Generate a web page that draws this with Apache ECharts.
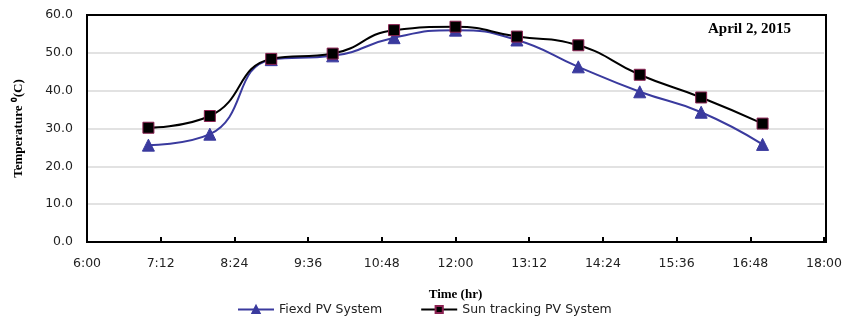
<!DOCTYPE html>
<html>
<head>
<meta charset="utf-8">
<script src="https://cdn.jsdelivr.net/npm/echarts@6/dist/echarts.min.js"></script>
<style>
html,body{margin:0;padding:0;background:#fff;}
#main{width:845px;height:323px;}
</style>
</head>
<body>
<div id="main"></div>
<script>
// time of day in hours
var hours = [7, 8, 9, 10, 11, 12, 13, 14, 15, 16, 17];
var fixedTemp = [25.6, 28.5, 48.2, 49.2, 54.0, 56.0, 53.4, 46.3, 39.7, 34.3, 25.8];
var trackTemp = [30.2, 33.3, 48.4, 49.8, 56.0, 56.9, 54.3, 52.0, 44.2, 38.2, 31.3];
var seriesNames = ['Fiexd PV System', 'Sun tracking PV System'];

function pairs(xs, ys){
	var out = [];
	for (var i = 0; i < xs.length; i++) {
		out.push([xs[i], ys[i]]);
	}
	return out;
}

function hhmm(v){
	var m = Math.round(v * 60);
	var h = Math.floor(m / 60);
	var mm = m % 60;
	return h + ':' + (mm < 10 ? '0' + mm : mm);
}

var myChart = echarts.init(document.getElementById('main'));

var option = {
	animation: false,
	backgroundColor: '#fff',
	grid: {
		left: 87, right: 19, top: 15, bottom: 81,
		show: false
	},
	legend: {
		bottom: 2,
		left: 232,
		itemWidth: 36,
		itemHeight: 9,
		itemGap: 38,
		textStyle: { fontFamily: 'DejaVu Sans, sans-serif', fontSize: 12.5, color: '#222' },
		data: seriesNames
	},
	xAxis: {
		type: 'value',
		min: 6, max: 18, interval: 1.2,
		name: 'Time (hr)',
		nameLocation: 'middle',
		nameGap: 46,
		nameTextStyle: { fontFamily: 'Liberation Serif, serif', fontWeight: 'bold', fontSize: 13, color: '#000' },
		axisLine: { lineStyle: { color: '#000', width: 2 } },
		axisTick: { inside: true, length: 5, lineStyle: { color: '#000', width: 2 } },
		axisLabel: {
			margin: 15, fontFamily: 'Verdana, DejaVu Sans, sans-serif', fontSize: 12.5, color: '#222',
			formatter: hhmm
		},
		splitLine: { show: false }
	},
	yAxis: {
		type: 'value',
		min: 0, max: 60, interval: 10,
		name: 'Temperature \u2070(C)',
		nameLocation: 'middle',
		nameGap: 62,
		nameTextStyle: { fontFamily: 'Liberation Serif, serif', fontWeight: 'bold', fontSize: 13, color: '#000' },
		axisLine: { show: true, lineStyle: { color: '#000', width: 2 } },
		axisTick: { show: false },
		axisLabel: {
			margin: 14, fontFamily: 'Verdana, DejaVu Sans, sans-serif', fontSize: 12.5, color: '#222',
			formatter: function(v){ return v.toFixed(1); }
		},
		splitLine: { lineStyle: { color: '#d9d9d9', width: 1.5 } }
	},
	series: [
		{
			name: seriesNames[0],
			type: 'line',
			smooth: 0.5,
			data: pairs(hours, fixedTemp),
			symbol: 'triangle',
			symbolSize: 12,
			lineStyle: { color: '#3a3a9e', width: 2 },
			itemStyle: { color: '#3a3a9e', borderColor: '#3a3a9e', borderWidth: 1 },
			z: 2
		},
		{
			name: seriesNames[1],
			type: 'line',
			smooth: 0.5,
			data: pairs(hours, trackTemp),
			symbol: 'rect',
			symbolSize: 11,
			lineStyle: { color: '#000', width: 2 },
			itemStyle: { color: '#000', borderColor: '#8b2252', borderWidth: 1 },
			z: 3
		}
	],
	graphic: [
		{
			// plot frame, drawn on top so the 60.0 grid line does not cover it
			type: 'rect',
			z: 100,
			silent: true,
			shape: { x: 87, y: 15, width: 739, height: 227 },
			style: { fill: 'none', stroke: '#000', lineWidth: 2 }
		},
		{
			type: 'text',
			left: 708,
			top: 22,
			style: {
				text: 'April 2, 2015',
				font: 'bold 15px "Liberation Serif", serif',
				fill: '#000'
			}
		}
	]
};

myChart.setOption(option);
</script>
</body>
</html>
